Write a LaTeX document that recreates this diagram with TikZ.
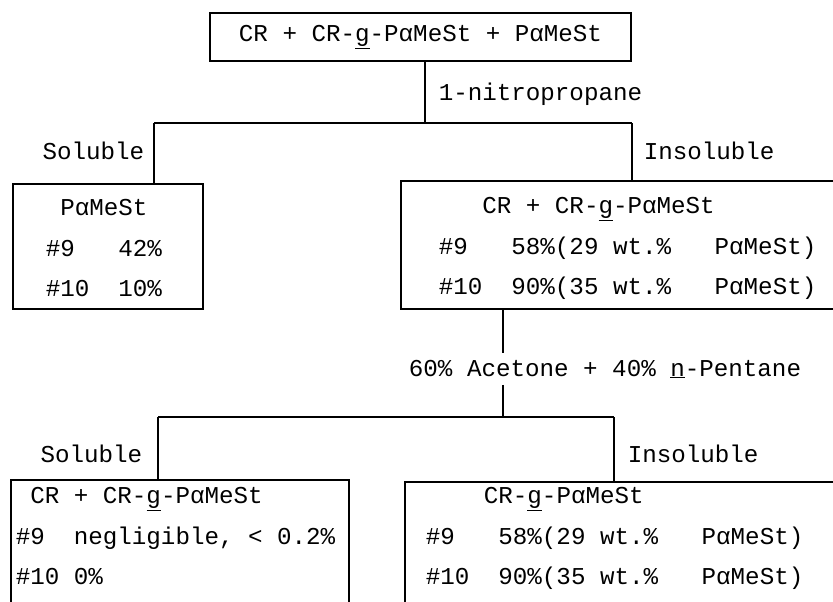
\documentclass[tikz,border=0pt]{standalone}
\usepackage{fontspec}
\setmonofont{Liberation Mono}
\usetikzlibrary{positioning}
\tikzset{
  box/.style={draw,anchor=north west,inner sep=0pt},
  rows/.style={anchor=north west,align=left,inner sep=0pt},
  lbl/.style={inner sep=0pt}
}
\begin{document}
\begin{tikzpicture}[x=1pt,y=-1pt,line width=1.6pt,font=\ttfamily\fontsize{24.2}{40.5}\selectfont]
\useasboundingbox (0,0) rectangle (833,602);
\clip (0,0) rectangle (833,602);
\node[draw,minimum width=421pt,minimum height=48pt,inner sep=0pt] (feed) at (420.5,37) {CR + CR-\underline{g}-PαMeSt + PαMeSt};
\coordinate (k1) at (425,123);
\coordinate (b1l) at (154,123);
\coordinate (b1r) at (632,123);
\node[lbl,anchor=west] (nitro) at (438,94) {1-nitropropane};
\node[box,minimum width=190pt,minimum height=125pt] (sol) at (12,183) {};
\node[box,minimum width=460pt,minimum height=128pt] (ins) at (400,180) {};
\node[rows,below right=16pt and 33pt of sol.north west] (sol-t) {~PαMeSt\\\#9~~~42\%\\\#10~~10\%};
\node[rows,below right=17pt and 38pt of ins.north west] (ins-t) {~~~CR + CR-\underline{g}-PαMeSt\\\#9~~~58\%(29 wt.\%~~~PαMeSt)\\\#10~~90\%(35 wt.\%~~~PαMeSt)};
\node[lbl,anchor=east] (sol-lab) at (145,151) {Soluble};
\node[lbl,anchor=west] (ins-lab) at (643,151) {Insoluble};
\draw (k1 |- feed.south) -- (k1);
\draw (b1l) -- (b1r);
\draw (b1l) -- (b1l |- sol.north);
\draw (b1r) -- (b1r |- ins.north);
\coordinate (k2) at (503,417);
\coordinate (b2l) at (158,417);
\coordinate (b2r) at (614,417);
\node[inner ysep=6pt,inner xsep=0pt] (solvent) at (605,369) {60\% Acetone + 40\% \underline{n}-Pentane};
\node[box,minimum width=338pt,minimum height=124pt] (sol2) at (10,479) {};
\node[box,minimum width=460pt,minimum height=124pt] (ins2) at (404,481) {};
\node[rows,below right=8pt and 5pt of sol2.north west] (sol2-t) {~CR + CR-\underline{g}-PαMeSt\\\#9~~negligible, < 0.2\%\\\#10 0\%};
\node[rows,below right=6pt and 21pt of ins2.north west] (ins2-t) {~~~~CR-\underline{g}-PαMeSt\\\#9~~~58\%(29 wt.\%~~~PαMeSt)\\\#10~~90\%(35 wt.\%~~~PαMeSt)};
\node[lbl,anchor=east] (sol2-lab) at (143,454) {Soluble};
\node[lbl,anchor=west] (ins2-lab) at (627,454) {Insoluble};
\draw (k2 |- ins.south) -- (k2 |- solvent.north);
\draw (k2 |- solvent.south) -- (k2);
\draw (b2l) -- (b2r);
\draw (b2l) -- (b2l |- sol2.north);
\draw (b2r) -- (b2r |- ins2.north);
\end{tikzpicture}
\end{document}
